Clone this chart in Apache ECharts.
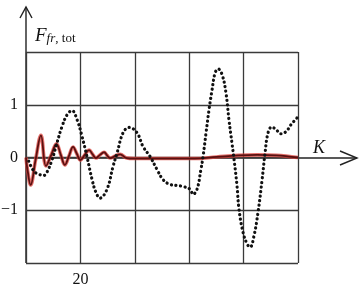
<!DOCTYPE html>
<html><head><meta charset="utf-8">
<script src="https://cdn.jsdelivr.net/npm/echarts@6/dist/echarts.min.js"></script>
<style>html,body{margin:0;padding:0;background:#fff}#c{width:361px;height:291px}</style>
</head><body><div id="c"></div>
<script>
// Dotted curve (K, F)
const dottedK = [1.0,2.9,4.8,6.6,7.7,9.6,11.4,13.2,15.1,16.9,18.75,20.6,22.4,24.3,25.7,27.2,29.8,32.0,33.5,35.7,37.9,40.8,43.0,45.6,48.2,50.4,52.9,55.5,57.7,60.3,61.4,62.9,64.3,65.1,66.2,67.3,68.4,69.5,70.6,72.1,73.5,74.6,75.7,76.5,77.6,78.3,79.8,81.3,82.4,83.8,85.3,86.8,87.9,89.0,90.4,91.9,93.75,95.6,97.4,99.6];
const dottedF = [-0.07,-0.26,-0.32,-0.34,-0.28,-0.04,0.28,0.58,0.81,0.89,0.72,0.40,0.02,-0.42,-0.66,-0.77,-0.60,-0.17,0.09,0.47,0.57,0.47,0.21,0.02,-0.23,-0.42,-0.51,-0.53,-0.55,-0.60,-0.70,-0.60,-0.23,0.02,0.47,0.91,1.28,1.60,1.68,1.57,1.23,0.72,0.28,-0.04,-0.55,-0.98,-1.42,-1.64,-1.70,-1.49,-1.04,-0.42,0.09,0.47,0.58,0.53,0.45,0.49,0.62,0.75];
// Solid (red) curve
const solidK = [0,0.6,1.7,3.5,5.5,7.35,9.3,11.2,12.8,14.3,15.8,17.3,18.7,20,21.6,23.2,24.5,25.7,27.2,28.7,29.8,30.9,32.8,34.6,37,39.7,50,62,70,78,85,92,100];
const solidF = [0,-0.25,-0.52,-0.05,0.42,-0.16,0.05,0.26,0.05,-0.14,0.03,0.2,0.07,-0.05,0.05,0.14,0.06,-0.01,0.05,0.1,0.04,-0.01,0.03,0.06,-0.01,-0.02,-0.02,-0.02,0.01,0.04,0.05,0.04,0];
const yTickLabels = {'1':'1','0':'0','-1':'\u22121'};
const xTickLabels = {'20':'20'};

const zip = (a,b)=>a.map((v,i)=>[v,b[i]]);
const chart = echarts.init(document.getElementById('c'));
const gridCol = '#3a3a3a';
const serif = '"Liberation Serif","DejaVu Serif",serif';
chart.setOption({
  animation:false,
  grid:{left:26,right:63,top:52,bottom:28,containLabel:false,outerBoundsMode:'none'},
  xAxis:{type:'value',min:0,max:100,interval:20,
    axisLine:{show:false},axisTick:{show:false},
    splitLine:{show:true,lineStyle:{color:gridCol,width:1.3}},
    axisLabel:{margin:9,color:'#111',fontFamily:serif,fontSize:16,
      formatter:v=>xTickLabels[String(v)]||''}},
  yAxis:{type:'value',min:-2,max:2,interval:1,
    axisLine:{show:false},axisTick:{show:false},
    splitLine:{show:true,lineStyle:{color:gridCol,width:1.3}},
    axisLabel:{margin:8,color:'#111',fontFamily:serif,fontSize:16,
      formatter:v=>yTickLabels[String(v)]||''}},
  series:[
    {type:'line',data:zip(solidK,solidF),smooth:0.4,symbol:'none',
      lineStyle:{color:'#d9403a',width:3.6,opacity:0.75},z:3},
    {type:'line',data:zip(solidK,solidF),smooth:0.4,symbol:'none',
      lineStyle:{color:'#5a1010',width:1.8},z:4},
    {type:'line',data:zip(dottedK,dottedF),smooth:0.4,symbol:'none',
      lineStyle:{color:'#111',width:3.2,type:[0.1,4.5],cap:'round'},z:5}
  ],
  graphic:[
    {type:'polyline',shape:{points:[[26,263],[26,7]]},style:{stroke:'#222',lineWidth:1.4,fill:null}},
    {type:'polyline',shape:{points:[[20,18],[26,7],[32,18]]},style:{stroke:'#222',lineWidth:1.4,fill:null}},
    {type:'polyline',shape:{points:[[26,158],[357,158]]},style:{stroke:'#222',lineWidth:1.4,fill:null}},
    {type:'polyline',shape:{points:[[340,151],[357,158],[340,165]]},style:{stroke:'#222',lineWidth:1.4,fill:null}},
    {type:'text',left:35,top:26,style:{text:'{f|F}{s|fr}{t|, tot}',fill:'#111',
      rich:{f:{fontFamily:serif,fontStyle:'italic',fontSize:19,fill:'#111',verticalAlign:'bottom'},
            s:{fontFamily:serif,fontStyle:'italic',fontSize:13,fill:'#111',padding:[9,0,0,0]},
            t:{fontFamily:serif,fontSize:13,fill:'#111',padding:[9,0,0,0]}}}},
    {type:'text',left:313,top:139,style:{text:'K',fontFamily:serif,fontStyle:'italic',fontSize:18,fill:'#111'}}
  ]
});
</script></body></html>
